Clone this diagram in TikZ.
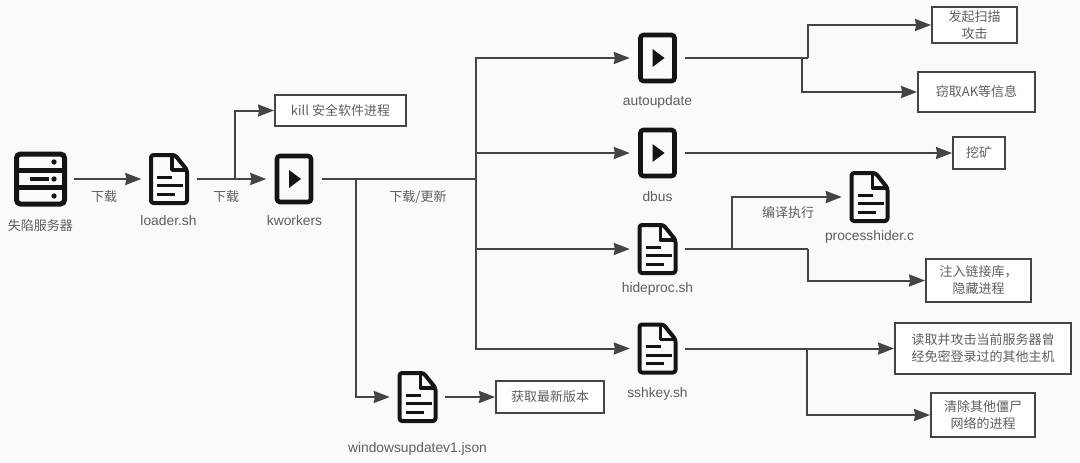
\documentclass[tikz,border=0pt]{standalone}
\usepackage{fontspec}
\setmainfont{Liberation Sans}
\newfontfamily\cjk{Noto Sans CJK SC}
\usetikzlibrary{arrows.meta}
\definecolor{pagebg}{HTML}{FAFAFA}
\definecolor{inkdark}{HTML}{141414}
\definecolor{linegray}{HTML}{444444}
\definecolor{textgray}{HTML}{5E5E5E}

\tikzset{
    % File icon
    docicon/.pic={
        \draw[inkdark, line width=4pt, rounded corners=2.5pt, line join=round]
            (-18,-24) -- (6,-24) -- (18,-9) -- (18,24) -- (-18,24) -- cycle;
        \draw[inkdark, line width=3.4pt, line join=round] (3,-24) -- (3,-9) -- (18,-9);
        \draw[inkdark, line width=3pt] (-12,-2) -- (3,-2);
        \draw[inkdark, line width=3pt] (-12,6.5) -- (14,6.5);
        \draw[inkdark, line width=3pt] (-12,15) -- (6,15);
    },
    % Executable icon
    playicon/.pic={
        \draw[inkdark, line width=4.6pt, rounded corners=3pt] (-17,-23) rectangle (17,23);
        \fill[inkdark] (-5,-9) -- (7,0) -- (-5,9) -- cycle;
    },
    % Server icon
    servericon/.pic={
        \draw[inkdark, line width=5pt, rounded corners=4pt] (-24,-25) rectangle (24,25);
        \draw[inkdark, line width=5pt] (-24,-8.5) -- (24,-8.5);
        \draw[inkdark, line width=5pt] (-24,8.5) -- (24,8.5);
        \draw[inkdark, line width=4.5pt] (-11,0) -- (8,0);
        \foreach \rowy in {-17,0,17} {
            \fill[inkdark] (13.5,\rowy) circle (2.7);
        }
    }
}

\begin{document}
\begin{tikzpicture}[
        x=1pt, y=-1pt,
        iconbox/.style={minimum width=55pt, minimum height=52pt, inner sep=0pt}, % Connectors stop short of the icon
        serverbox/.style={minimum width=66pt, minimum height=52pt, inner sep=0pt},
        caption/.style={text=textgray, font=\fontsize{13.8}{15}\selectfont, inner sep=0pt},
        zhcaption/.style={text=textgray, font=\cjk\fontsize{13}{15}\selectfont, inner sep=0pt},
        outbox/.style={draw=linegray, line width=1.9pt, fill=white, text=textgray, align=center,
            inner sep=0pt, font=\cjk\fontsize{13}{17}\selectfont},
        flow/.style={draw=linegray, line width=2pt, -{Stealth[length=16pt, width=12pt, inset=1pt]}},
        trunk/.style={draw=linegray, line width=2pt}
    ]

    \fill[pagebg] (0,0) rectangle (1080,463);

    % Icons, with an empty node to connect to
    \node[serverbox] (server) at (40.5,179) {};
    \pic at (server) {servericon};
    \node[iconbox] (loader) at (169,179) {};
    \pic at (loader) {docicon};
    \node[iconbox] (kworkers) at (294,179) {};
    \pic at (kworkers) {playicon};
    \node[iconbox] (winupdate) at (417.5,397) {};
    \pic at (winupdate) {docicon};
    \node[iconbox] (autoupdate) at (657.5,58) {};
    \pic at (autoupdate) {playicon};
    \node[iconbox] (dbus) at (657.5,153) {};
    \pic at (dbus) {playicon};
    \node[iconbox] (hideproc) at (657.5,249) {};
    \pic at (hideproc) {docicon};
    \node[iconbox] (sshkey) at (657.5,348.5) {};
    \pic at (sshkey) {docicon};
    \node[iconbox] (prochider) at (869.5,197) {};
    \pic at (prochider) {docicon};

    % Captions
    \node[zhcaption] (serverlbl) at (40.5,226) {失陷服务器};
    \node[caption] (loaderlbl) at (168.5,221) {loader.sh};
    \node[caption] (kworkerslbl) at (294.5,221) {kworkers};
    \node[caption] (winupdatelbl) at (417.5,449) {windowsupdatev1.json};
    \node[caption] (autoupdatelbl) at (657.5,102) {autoupdate};
    \node[caption] (dbuslbl) at (657.5,197) {dbus};
    \node[caption] (hideproclbl) at (657.5,289) {hideproc.sh};
    \node[caption] (sshkeylbl) at (657.5,393.5) {sshkey.sh};
    \node[caption] (prochiderlbl) at (869.5,237) {processhider.c};

    % Connector labels
    \node[zhcaption] (dlone) at (104,197) {下载};
    \node[zhcaption] (dltwo) at (226,197) {下载};
    \node[zhcaption] (dlthree) at (418,197) {下载/更新};
    \node[zhcaption] (compilelbl) at (788,213) {编译执行};

    % Result boxes
    \node[outbox, minimum width=131pt, minimum height=31pt] (killbox) at (340.5,110.5) {kill 安全软件进程};
    \node[outbox, minimum width=108pt, minimum height=32pt] (versionbox) at (550,397) {获取最新版本};
    \node[outbox, minimum width=85pt, minimum height=36pt] (scanbox) at (974.5,25) {发起扫描\\攻击};
    \node[outbox, minimum width=117pt, minimum height=40pt] (stealbox) at (976.5,92) {窃取AK等信息};
    \node[outbox, minimum width=52pt, minimum height=32pt] (minebox) at (979,153) {挖矿};
    \node[outbox, minimum width=105pt, minimum height=43pt] (injectbox) at (978.5,280.5) {注入链接库，\\隐藏进程};
    \node[outbox, minimum width=176pt, minimum height=51pt] (attackbox) at (983,348.5) {读取并攻击当前服务器曾\\经免密登录过的其他主机};
    \node[outbox, minimum width=104pt, minimum height=44pt] (cleanbox) at (983,415) {清除其他僵尸\\网络的进程};

    % Branch points
    \coordinate (killsplit) at (235,179);
    \coordinate (winsplit) at (356,179);
    \coordinate (mainsplit) at (476,179);
    \coordinate (autosplitup) at (808,58);
    \coordinate (autosplitdown) at (802,58);
    \coordinate (hidesplitup) at (732,249);
    \coordinate (hidesplitdown) at (808,249);
    \coordinate (sshsplit) at (807,348.5);

    % Left part
    \draw[flow] (server) -- (loader);
    \draw[flow] (loader) -- (kworkers);
    \draw[flow] (killsplit) |- (killbox);

    % Trunk and its branches
    \draw[trunk] (kworkers.east) -- (mainsplit);
    \draw[flow] (winsplit) |- (winupdate);
    \draw[flow] (winupdate) -- (versionbox);
    \draw[flow] (mainsplit) |- (autoupdate);
    \draw[flow] (mainsplit) |- (dbus);
    \draw[flow] (mainsplit) |- (hideproc);
    \draw[flow] (mainsplit) |- (sshkey);

    % Right part
    \draw[trunk] (autoupdate.east) -- (autosplitup);
    \draw[flow] (autosplitup) |- (scanbox);
    \draw[flow] (autosplitdown) |- (stealbox);
    \draw[flow] (dbus) -- (minebox);
    \draw[trunk] (hideproc.east) -- (hidesplitdown);
    \draw[flow] (hidesplitup) |- (prochider);
    \draw[flow] (hidesplitdown) |- (injectbox);
    \draw[flow] (sshkey) -- (attackbox);
    \draw[flow] (sshsplit) |- (cleanbox);

\end{tikzpicture}
\end{document}
